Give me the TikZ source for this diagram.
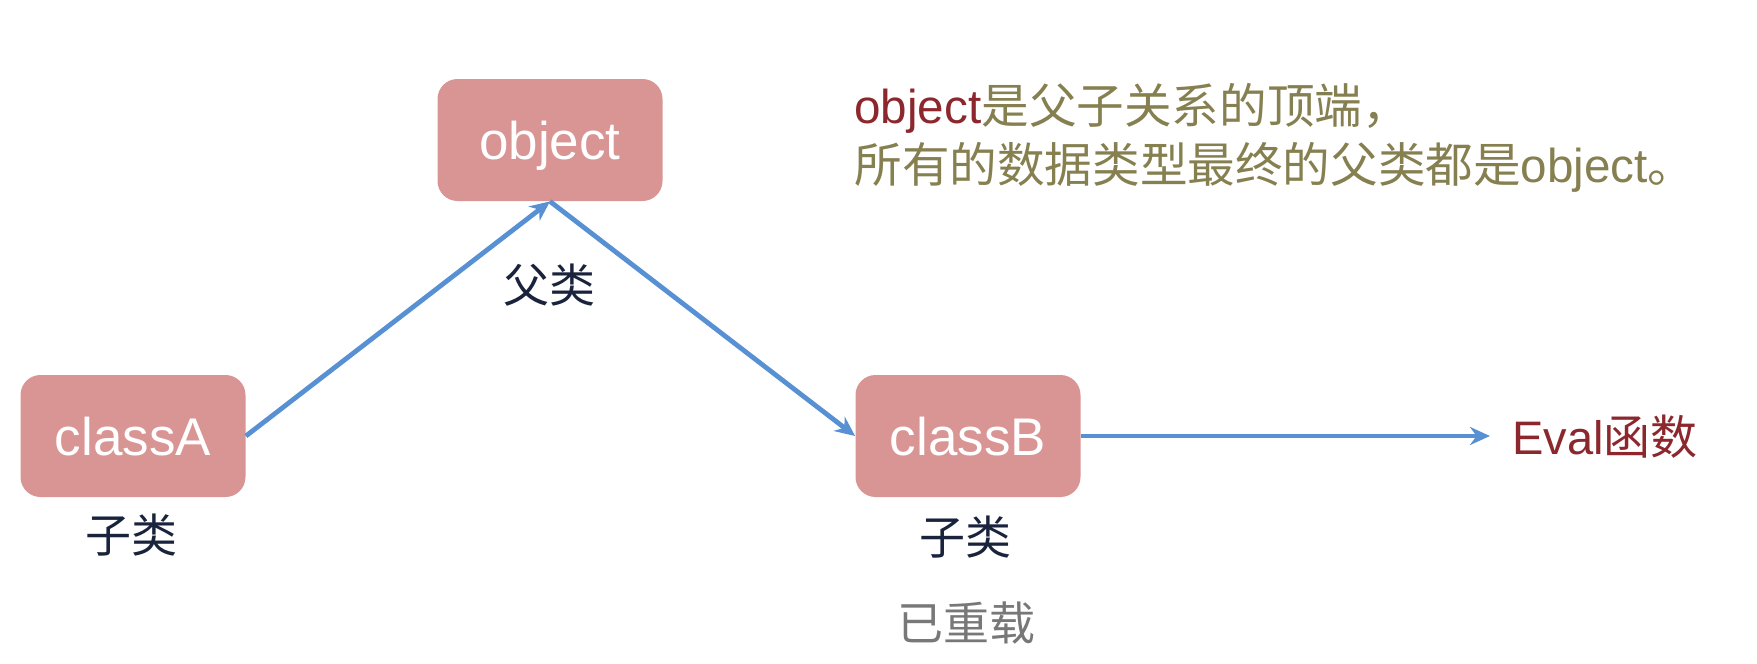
\documentclass[tikz,border=0pt]{standalone}
\usepackage{fontspec}
\setmainfont{Liberation Sans}
\newfontfamily\cjk{Noto Sans CJK SC}
\usetikzlibrary{arrows.meta}
\definecolor{boxfill}{RGB}{217,149,148}
\definecolor{arrowblue}{RGB}{88,144,212}
\definecolor{darkred}{RGB}{140,40,45}
\definecolor{olivetxt}{RGB}{134,128,80}
\definecolor{navytxt}{RGB}{25,35,60}
\definecolor{graytxt}{RGB}{120,120,120}
\begin{document}
\begin{tikzpicture}[x=0.5pt,y=-0.5pt,
  classbox/.style={fill=boxfill, rounded corners=10pt, minimum width=112.5pt,
    minimum height=61pt, inner sep=0pt, text=white, text height=19pt, text depth=0pt,
    font=\fontsize{26.5}{30}\selectfont},
  conn/.style={draw=arrowblue, line width=2.4pt, -{Stealth[length=10pt,width=9pt]}},
  lbl/.style={inner sep=0pt, text=navytxt, font=\cjk\fontsize{23}{28}\selectfont},
  toptext/.style={inner sep=0pt, anchor=base west, text=olivetxt, font=\fontsize{23.8}{28}\selectfont}]
\useasboundingbox (0,0) rectangle (1757,664);
\node[classbox] (obj) at (550,140) {object};
\node[classbox] (A) at (133,436) {classA};
\node[classbox] (B) at (968,436) {classB};
\node[lbl] (lA) at (131,535) {子类};
\node[lbl] (lB) at (965,537) {子类};
\node[lbl] (lP) at (549,285) {父类};
\node[lbl, text=graytxt] (ov) at (966,623) {已重载};
\node[inner xsep=11pt, inner ysep=0pt, anchor=west, text=darkred,
  font=\fontsize{23.5}{28}\selectfont] (ev) at (1490,437) {Eval{\cjk 函数}};
\node[toptext] (t1) at (854,123) {{\color{darkred}object}{\cjk 是父子关系的顶端，}};
\node[toptext] (t2) at (854,182) {{\cjk 所有的数据类型最终的父类都是}object{\cjk 。}};
\draw[conn] (A.east) -- (obj.south);
\draw[conn] (obj.south) -- (B.west);
\draw[conn] (B.east) -- (B.east -| ev.west);
\end{tikzpicture}
\end{document}
